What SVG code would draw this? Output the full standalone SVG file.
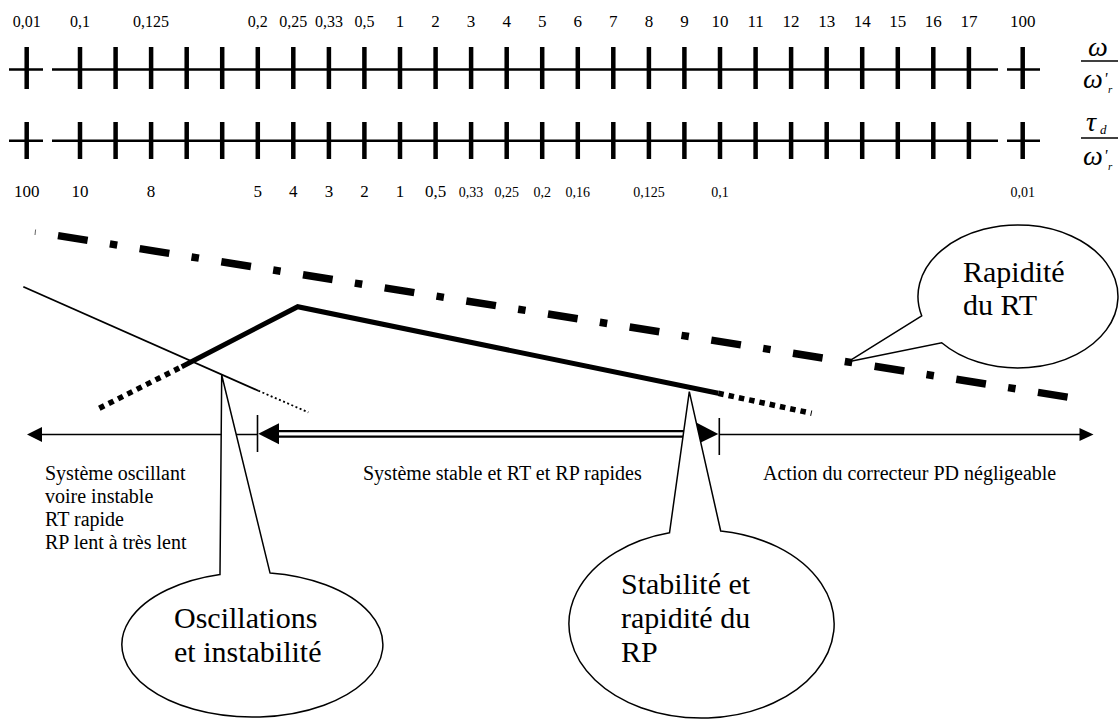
<svg xmlns="http://www.w3.org/2000/svg" width="1120" height="719" viewBox="0 0 1120 719" font-family="'Liberation Serif', 'DejaVu Serif', serif">
<style>
  text { font-family: 'Liberation Serif', 'DejaVu Serif', serif; fill: #000; }
  .t16 { font-size: 16px; text-anchor: middle; }
  .t17 { font-size: 17px; text-anchor: middle; }
  .t14 { font-size: 14px; text-anchor: middle; }
  .t20 { font-size: 20px; }
  .t30 { font-size: 30px; }
  .m { font-style: italic; }
  .axis { stroke: #000; stroke-width: 2.5; fill: none; }
  .tick { stroke: #000; stroke-width: 4.5; fill: none; }
  .thin { stroke: #000; stroke-width: 1.8; fill: none; }
  .thick { stroke: #000; stroke-width: 5; fill: none; stroke-linejoin: miter; }
  .dotthick { stroke: #000; stroke-width: 5.5; fill: none; stroke-dasharray: 5.5 5; }
  .dotthin { stroke: #000; stroke-width: 1.8; fill: none; stroke-dasharray: 2 2.5; }
  .dashdot { stroke: #000; stroke-width: 7.5; fill: none; stroke-dasharray: 30 22.5 7.5 22.7; }
  .line { stroke: #000; stroke-width: 1.6; fill: none; }
  .callout { stroke: #000; stroke-width: 1.5; fill: #fff; }
  .head { fill: #000; stroke: none; }
</style>
<rect width="1120" height="719" fill="#fff"/>

<g id="scale-omega">
  <path class="axis" d="M9 69.5H43 M52 69.5H998 M1007 69.5H1040"/>
  <path class="tick" d="M26.7 47V89 M80 47V89 M115.6 47V89 M151.1 47V89 M186.7 47V89 M222.2 47V89 M257.8 47V89 M293.3 47V89 M328.9 47V89 M364.4 47V89 M400 47V89 M435.6 47V89 M471.1 47V89 M506.7 47V89 M542.2 47V89 M577.8 47V89 M613.3 47V89 M648.9 47V89 M684.4 47V89 M720 47V89 M755.6 47V89 M791.1 47V89 M826.7 47V89 M862.2 47V89 M897.8 47V89 M933.3 47V89 M968.9 47V89 M1022.7 47V89"/>
  <text class="t16" x="26.7" y="27">0,01</text>
  <text class="t16" x="80" y="27">0,1</text>
  <text class="t16" x="151.1" y="27">0,125</text>
  <text class="t16" x="257.8" y="27">0,2</text>
  <text class="t16" x="293.3" y="27">0,25</text>
  <text class="t16" x="328.9" y="27">0,33</text>
  <text class="t16" x="364.4" y="27">0,5</text>
  <text class="t17" x="400" y="27">1</text>
  <text class="t17" x="435.6" y="27">2</text>
  <text class="t17" x="471.1" y="27">3</text>
  <text class="t17" x="506.7" y="27">4</text>
  <text class="t17" x="542.2" y="27">5</text>
  <text class="t17" x="577.8" y="27">6</text>
  <text class="t17" x="613.3" y="27">7</text>
  <text class="t17" x="648.9" y="27">8</text>
  <text class="t17" x="684.4" y="27">9</text>
  <text class="t17" x="720" y="27">10</text>
  <text class="t17" x="755.6" y="27">11</text>
  <text class="t17" x="791.1" y="27">12</text>
  <text class="t17" x="826.7" y="27">13</text>
  <text class="t17" x="862.2" y="27">14</text>
  <text class="t17" x="897.8" y="27">15</text>
  <text class="t17" x="933.3" y="27">16</text>
  <text class="t17" x="968.9" y="27">17</text>
  <text class="t17" x="1022.7" y="27">100</text>
</g>

<g id="scale-tau">
  <path class="axis" d="M9 140.7H43 M52 140.7H998 M1007 140.7H1040"/>
  <path class="tick" d="M26.7 122V159 M80 122V159 M115.6 122V159 M151.1 122V159 M186.7 122V159 M222.2 122V159 M257.8 122V159 M293.3 122V159 M328.9 122V159 M364.4 122V159 M400 122V159 M435.6 122V159 M471.1 122V159 M506.7 122V159 M542.2 122V159 M577.8 122V159 M613.3 122V159 M648.9 122V159 M684.4 122V159 M720 122V159 M755.6 122V159 M791.1 122V159 M826.7 122V159 M862.2 122V159 M897.8 122V159 M933.3 122V159 M968.9 122V159 M1022.7 122V159"/>
  <text class="t17" x="26.7" y="197">100</text>
  <text class="t17" x="80" y="197">10</text>
  <text class="t17" x="151.1" y="197">8</text>
  <text class="t17" x="257.8" y="197">5</text>
  <text class="t17" x="293.3" y="197">4</text>
  <text class="t17" x="328.9" y="197">3</text>
  <text class="t17" x="364.4" y="197">2</text>
  <text class="t17" x="400" y="197">1</text>
  <text class="t17" x="435.6" y="197">0,5</text>
  <text class="t14" x="471.1" y="197">0,33</text>
  <text class="t14" x="506.7" y="197">0,25</text>
  <text class="t14" x="542.2" y="197">0,2</text>
  <text class="t14" x="577.8" y="197">0,16</text>
  <text class="t14" x="648.9" y="197">0,125</text>
  <text class="t14" x="720" y="197">0,1</text>
  <text class="t14" x="1022.7" y="197">0,01</text>
</g>

<g id="frac-omega">
  <text class="m" x="1098" y="56" font-size="28" text-anchor="middle">ω</text>
  <line class="line" x1="1081" y1="61" x2="1118" y2="61" stroke-width="1.3"/>
  <text class="m" x="1093" y="88" font-size="28" text-anchor="middle">ω</text>
  <text class="m" x="1104" y="84" font-size="16">'</text>
  <text class="m" x="1108" y="93" font-size="11">r</text>
</g>

<g id="frac-tau">
  <text class="m" x="1091" y="131" font-size="28" text-anchor="middle">τ</text>
  <text class="m" x="1100" y="134" font-size="13">d</text>
  <line class="line" x1="1081" y1="138" x2="1118" y2="138" stroke-width="1.3"/>
  <text class="m" x="1093" y="165" font-size="28" text-anchor="middle">ω</text>
  <text class="m" x="1104" y="161" font-size="16">'</text>
  <text class="m" x="1108" y="170" font-size="11">r</text>
</g>

<g id="curves">
  <line x1="35.6" y1="229.5" x2="35" y2="235" stroke="#666" stroke-width="1"/>
  <path class="dashdot" d="M58 235.6L1068 397.2"/>
  <path class="thin" d="M23.3 286.7L258.3 390.7"/>
  <path class="dotthin" d="M258.3 390.7L308.3 412.3"/>
  <path class="dotthick" d="M99.3 408.3L181.7 366.7"/>
  <path class="thick" d="M181.7 366.7L297.7 306.7L718.3 393.3"/>
  <path class="dotthick" d="M718.3 393.3L811.7 413.3"/>
</g>

<g id="connectors">
  <path class="line" d="M42 434.5H257.5 M719.3 434.5H1080"/>
  <polygon class="head" points="27,434.5 42,427 42,442"/>
  <polygon class="head" points="1093.5,434.5 1079.5,428 1079.5,441"/>
  <path class="line" d="M257.5 415V452 M719.3 418V455"/>
  <path stroke="#000" stroke-width="2.2" fill="none" d="M279 431.2H697 M279 436.6H697"/>
  <polygon class="head" points="258.3,433.8 279,423.3 279,444.3"/>
  <polygon class="head" points="718.3,434 696.7,422.8 696.7,444.5"/>
</g>

<g id="zone-left">
  <text class="t20" x="45" y="480">Système oscillant</text>
  <text class="t20" x="45" y="503">voire instable</text>
  <text class="t20" x="45" y="526">RT rapide</text>
  <text class="t20" x="45" y="549">RP lent à très lent</text>
</g>
<g id="zone-middle">
  <text class="t20" x="363" y="480">Système stable et RT et RP rapides</text>
</g>
<g id="zone-right">
  <text class="t20" x="763" y="480">Action du correcteur PD négligeable</text>
</g>

<g id="callout-oscillations">
  <path class="callout" d="M220 574.5L221.7 375L270 572.9A130.5 72.4 0 1 1 220 574.5Z"/>
  <text class="t30" x="174" y="628">Oscillations</text>
  <text class="t30" x="174" y="662">et instabilité</text>
</g>

<g id="callout-stabilite">
  <path class="callout" d="M669.5 532.8L689.3 391.7L720.7 531A132.6 94 0 1 1 669.5 532.8Z"/>
  <text class="t30" x="621" y="594">Stabilité et</text>
  <text class="t30" x="621" y="628">rapidité du</text>
  <text class="t30" x="621" y="662">RP</text>
</g>

<g id="callout-rapidite">
  <path class="callout" d="M921.7 315.8L848.3 361.7L941.7 342.7A100 71.5 0 1 0 921.7 315.8Z"/>
  <text class="t30" x="963" y="282">Rapidité</text>
  <text class="t30" x="963" y="315">du RT</text>
</g>
</svg>
